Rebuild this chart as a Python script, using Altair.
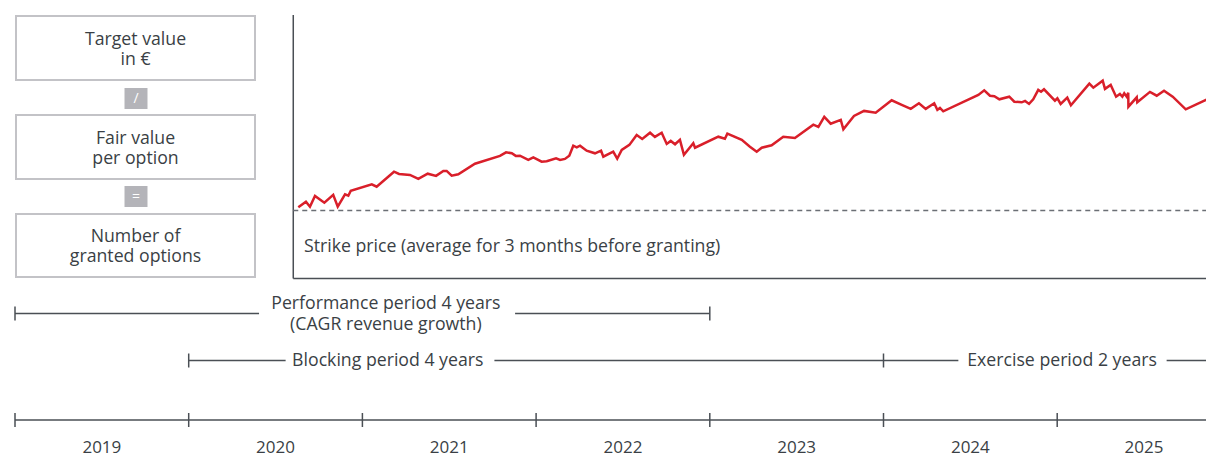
import altair as alt
import pandas as pd

# ---------------- data ----------------
# share price development (decimal year, price index; strike price = 100)
line_t = [
    2020.631, 2020.675, 2020.698, 2020.727, 2020.781, 2020.832, 2020.858, 2020.900, 2020.919, 2020.933,
    2021.054, 2021.082, 2021.182, 2021.211, 2021.274, 2021.322, 2021.376, 2021.424, 2021.466, 2021.485,
    2021.514, 2021.552, 2021.648, 2021.792, 2021.827, 2021.860, 2021.883, 2021.907, 2021.955, 2021.984,
    2022.032, 2022.061, 2022.115, 2022.138, 2022.166, 2022.191, 2022.214, 2022.234, 2022.253, 2022.291,
    2022.339, 2022.374, 2022.387, 2022.444, 2022.467, 2022.493, 2022.537, 2022.579, 2022.611, 2022.656,
    2022.684, 2022.723, 2022.752, 2022.775, 2022.800, 2022.828, 2022.851, 2022.905, 2022.915, 2023.049,
    2023.087, 2023.101, 2023.184, 2023.231, 2023.270, 2023.299, 2023.356, 2023.423, 2023.490, 2023.596,
    2023.625, 2023.659, 2023.696, 2023.754, 2023.769, 2023.830, 2023.888, 2023.955, 2024.047, 2024.105,
    2024.157, 2024.204, 2024.243, 2024.292, 2024.310, 2024.325, 2024.344, 2024.546, 2024.580, 2024.613,
    2024.638, 2024.667, 2024.724, 2024.753, 2024.796, 2024.815, 2024.838, 2024.862, 2024.891, 2024.907,
    2024.924, 2024.987, 2025.001, 2025.020, 2025.058, 2025.079, 2025.185, 2025.208, 2025.262, 2025.275,
    2025.308, 2025.339, 2025.361, 2025.375, 2025.386, 2025.400, 2025.409, 2025.410, 2025.458, 2025.461,
    2025.534, 2025.573, 2025.615, 2025.665, 2025.740, 2025.870, 2025.903,
]
line_p = [
    101.6, 104.4, 101.9, 107.3, 103.9, 107.8, 101.9, 108.1, 107.4, 109.9,
    113.1, 111.9, 119.4, 118.3, 117.8, 115.8, 118.4, 117.3, 119.8, 119.8,
    117.4, 118.1, 123.4, 127.3, 129.1, 128.6, 127.3, 127.4, 125.3, 126.6,
    124.4, 124.6, 126.1, 125.3, 125.8, 127.4, 132.4, 131.6, 132.4, 129.9,
    128.6, 129.9, 126.9, 129.4, 125.9, 130.3, 132.8, 137.8, 135.8, 138.9,
    136.8, 138.9, 133.3, 134.8, 133.1, 135.3, 127.8, 133.6, 131.4, 136.9,
    135.9, 138.4, 135.3, 131.9, 129.4, 131.4, 132.6, 136.9, 136.3, 142.9,
    141.8, 146.8, 143.4, 145.3, 140.6, 147.3, 149.8, 148.9, 155.1, 152.8,
    150.8, 153.6, 150.8, 153.6, 150.3, 151.3, 149.6, 157.8, 160.1, 157.4,
    157.1, 155.6, 156.9, 154.4, 154.1, 154.8, 153.3, 155.6, 160.3, 159.4,
    160.6, 154.9, 156.1, 153.3, 156.4, 152.6, 163.4, 161.4, 164.9, 160.8,
    162.8, 156.9, 158.3, 156.9, 158.6, 156.9, 158.9, 151.9, 156.6, 154.1,
    159.3, 157.4, 159.9, 156.9, 150.6, 155.9, 154.4,
]
STRIKE = 100
strike_label = "Strike price (average for 3 months before granting)"
chart_start = 2020.602

years = [2019, 2020, 2021, 2022, 2023, 2024, 2025]
year_end = 2026

box_texts = ["Target value\nin €", "Fair value\nper option", "Number of\ngranted options"]
operators = ["/", "="]

perf_period = (2019, 2023)
block_period = (2020, 2024)
exer_period = (2024, 2026)
perf_label = "Performance period 4 years\n(CAGR revenue growth)"
block_label = "Blocking period 4 years"
exer_label = "Exercise period 2 years"

# ---------------- layout / style ----------------
W, H = 1198, 450
PX_PER_YEAR = 173.7
T0 = 2019 - 7 / PX_PER_YEAR
T1 = T0 + W / PX_PER_YEAR
FONT = "Open Sans"
FS = 17.7
FS_YEAR = 17
LH = 20
TXT = "#3a3f45"
LN = "#4a4f55"
RED = "#d91f2a"
BOX_STROKE = "#c3c3c7"
OP_FILL = "#b4b4b9"

XT = alt.Scale(domain=[T0, T1], nice=False, zero=False)              # time scale
XP = alt.Scale(domain=[0, W], nice=False, zero=False)                # layout pixels
YL = alt.Scale(domain=[0, H], reverse=True, nice=False, zero=False)  # layout pixels (top = 0)
P_TOP = 100 + 202.5 / 2
YP = alt.Scale(domain=[P_TOP - H / 2, P_TOP], nice=False, zero=False)  # price scale


def xt(f):
    return alt.X(f, type="quantitative", scale=XT, axis=None)


def xp(f):
    return alt.X(f, type="quantitative", scale=XP, axis=None)


def yl(f):
    return alt.Y(f, type="quantitative", scale=YL, axis=None)


def yp(f):
    return alt.Y(f, type="quantitative", scale=YP, axis=None)


def txt(**kw):
    base = dict(font=FONT, fontSize=FS, color=TXT, align="center", baseline="middle", lineBreak="\n", lineHeight=LH)
    base.update(kw)
    return base


layers = []

# --- left boxes ---
boxes = pd.DataFrame({
    "x0": [8] * 3, "x1": [247] * 3,
    "y0": [8, 107, 206], "y1": [72, 171, 269],
    "t": box_texts,
    "ty": [31.5, 130.5, 228.5],
})
boxes["xc"] = (boxes["x0"] + boxes["x1"]) / 2
layers.append(
    alt.Chart(boxes).mark_rect(fill="white", stroke=BOX_STROKE, strokeWidth=2).encode(
        x=xp("x0"), x2="x1", y=yl("y0"), y2="y1"
    )
)
layers.append(
    alt.Chart(boxes).mark_text(**txt()).encode(x=xp("xc"), y=yl("ty"), text="t:N")
)
ops = pd.DataFrame({"x0": [116.5, 116.5], "x1": [139.5, 139.5], "y0": [80, 178], "y1": [101, 199], "t": operators})
ops["xc"] = (ops["x0"] + ops["x1"]) / 2
ops["yc"] = (ops["y0"] + ops["y1"]) / 2
layers.append(
    alt.Chart(ops).mark_rect(fill=OP_FILL).encode(x=xp("x0"), x2="x1", y=yl("y0"), y2="y1")
)
layers.append(
    alt.Chart(ops).mark_text(**txt(fontSize=14, color="white")).encode(x=xp("xc"), y=yl("yc"), text="t:N")
)

# --- price chart frame ---
frame = pd.DataFrame({"x": [chart_start], "x2": [T1], "ytop": [197.75], "ybot": [66.0]})
layers.append(
    alt.Chart(frame).mark_rule(color=LN, strokeWidth=1.5).encode(x=xt("x"), y=yp("ytop"), y2="ybot")
)
layers.append(
    alt.Chart(frame).mark_rule(color=LN, strokeWidth=1.5).encode(x=xt("x"), x2="x2", y=yp("ybot"))
)
strike = pd.DataFrame({"x": [chart_start], "x2": [T1], "p": [STRIKE]})
layers.append(
    alt.Chart(strike).mark_rule(color="#6b6f75", strokeWidth=1.5, strokeDash=[5, 4]).encode(
        x=xt("x"), x2="x2", y=yp("p")
    )
)
layers.append(
    alt.Chart(pd.DataFrame({"x": [2020.664], "p": [82.0], "t": [strike_label]})).mark_text(
        **txt(align="left")
    ).encode(x=xt("x"), y=yp("p"), text="t:N")
)
price = pd.DataFrame({"t": line_t, "p": line_p, "i": range(len(line_t))})
layers.append(
    alt.Chart(price).mark_line(color=RED, strokeWidth=2.5, clip=True).encode(
        x=xt("t"), y=yp("p"), order="i:Q"
    )
)

# --- timeline ---
ROW_PERF, ROW_BLOCK, ROW_YEAR = 305.5, 352.5, 412
TICK = 7
segs = pd.DataFrame(
    {
        "a": [perf_period[0], 2021.879, block_period[0], 2021.760, exer_period[0], 2025.630, years[0]],
        "b": [2020.405, perf_period[1], 2020.558, block_period[1], 2024.431, exer_period[1], year_end],
        "y": [ROW_PERF, ROW_PERF, ROW_BLOCK, ROW_BLOCK, ROW_BLOCK, ROW_BLOCK, ROW_YEAR],
    }
)
layers.append(
    alt.Chart(segs).mark_rule(color=LN, strokeWidth=1.5).encode(x=xt("a"), x2="b", y=yl("y"))
)
tick_x = list(perf_period) + [block_period[0], block_period[1]] + years
tick_y = [ROW_PERF] * 2 + [ROW_BLOCK] * 2 + [ROW_YEAR] * len(years)
ticks = pd.DataFrame({"x": tick_x, "y0": [v - TICK for v in tick_y], "y1": [v + TICK for v in tick_y]})
layers.append(
    alt.Chart(ticks).mark_rule(color=LN, strokeWidth=1.5).encode(x=xt("x"), y=yl("y0"), y2="y1")
)
labels = pd.DataFrame(
    {
        "x": [2021.135, 2021.146, 2025.028],
        "y": [296, ROW_BLOCK, ROW_BLOCK],
        "t": [perf_label, block_label, exer_label],
    }
)
layers.append(
    alt.Chart(labels).mark_text(**txt(lineHeight=21)).encode(x=xt("x"), y=yl("y"), text="t:N")
)
year_labels = pd.DataFrame({"x": [y + 0.5 for y in years], "y": [440] * len(years), "t": [str(y) for y in years]})
layers.append(
    alt.Chart(year_labels).mark_text(**txt(fontSize=FS_YEAR)).encode(x=xt("x"), y=yl("y"), text="t:N")
)

chart = (
    alt.layer(*layers)
    .resolve_scale(x="independent", y="independent")
    .properties(width=W, height=H, padding=0, autosize=alt.AutoSizeParams(type="none"), background="white")
    .configure_view(stroke="transparent", strokeWidth=0)
)

chart.save("out.html", embed_options={"renderer": "svg", "actions": False})
